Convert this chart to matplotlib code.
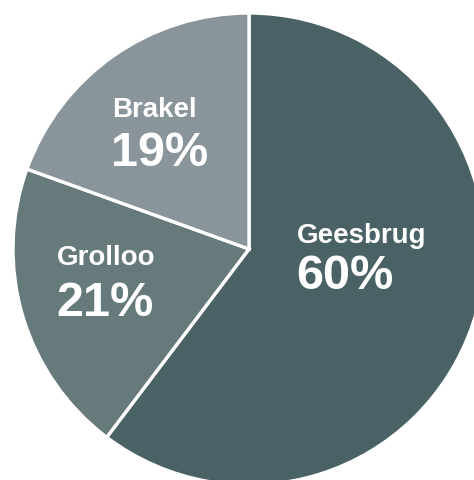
import matplotlib
matplotlib.use("Agg")
import matplotlib.pyplot as plt

categories = ["Geesbrug", "Grolloo", "Brakel"]
shares = [60.3, 20.2, 19.5]          # wedge shares
pct_labels = ["60%", "21%", "19%"]   # printed labels
colors = ["#4a6266", "#667a7c", "#89959a"]

W, H = 474, 480
fig = plt.figure(figsize=(W / 100, H / 100), dpi=100)
ax = fig.add_axes([0, 0, 1, 1])

cx, cy_px, r = 249, 249, 236
ax.pie(shares, colors=colors, startangle=90, counterclock=False,
       center=(cx, H - cy_px), radius=r,
       wedgeprops=dict(edgecolor="white", linewidth=2.4), frame=True)
ax.set_xlim(0, W)
ax.set_ylim(0, H)
ax.axis("off")

# label layout: (x_left, name_baseline_px, pct_baseline_px)
label_pos = {"Geesbrug": (297, 243, 289), "Grolloo": (57, 265, 316), "Brakel": (112, 117, 166)}
font = ["Liberation Sans", "DejaVu Sans"]
for name, lab in zip(categories, pct_labels):
    x, yb1, yb2 = label_pos[name]
    ax.text(x, H - yb1, name, color="white", fontsize=20, fontweight="bold",
            family=font, ha="left", va="baseline")
    ax.text(x - 1, H - yb2, lab, color="white", fontsize=35, fontweight="bold",
            family=font, ha="left", va="baseline")

fig.savefig("out.png", dpi=100)
